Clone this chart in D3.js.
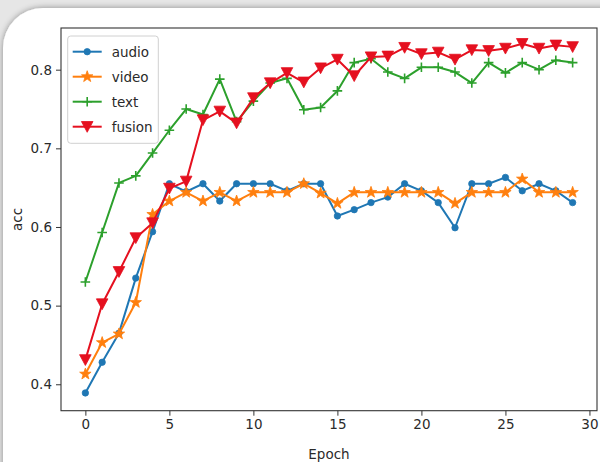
<!DOCTYPE html>
<html>
<head>
<meta charset="utf-8">
<script src="https://cdn.jsdelivr.net/npm/d3@7/dist/d3.min.js"></script>
<style>
  html, body { margin: 0; padding: 0; background: #e4e4e4; }
  svg { display: block; }
  text { font-family: "DejaVu Sans", sans-serif; }
</style>
</head>
<body>
<svg id="chart" width="600" height="462"></svg>
<script>
// ---- data ----
const epochs = d3.range(0, 30);
const audio = [0.389, 0.428, 0.465, 0.535, 0.594, 0.655, 0.645, 0.655, 0.633, 0.655,
               0.655, 0.655, 0.646, 0.655, 0.655, 0.614, 0.622, 0.631, 0.638, 0.655,
               0.646, 0.631, 0.599, 0.655, 0.655, 0.663, 0.646, 0.655, 0.646, 0.631];
const video = [0.413, 0.453, 0.464, 0.504, 0.616, 0.633, 0.644, 0.633, 0.644, 0.633,
               0.644, 0.644, 0.644, 0.655, 0.643, 0.630, 0.644, 0.644, 0.644, 0.644,
               0.644, 0.644, 0.630, 0.644, 0.644, 0.644, 0.661, 0.644, 0.644, 0.644];
const text = [0.530, 0.593, 0.656, 0.665, 0.694, 0.723, 0.750, 0.743, 0.788, 0.734,
              0.760, 0.783, 0.789, 0.749, 0.752, 0.773, 0.809, 0.814, 0.797, 0.789,
              0.803, 0.803, 0.797, 0.783, 0.809, 0.796, 0.809, 0.800, 0.812, 0.809];
const fusion = [0.431, 0.502, 0.543, 0.586, 0.605, 0.649, 0.658, 0.736, 0.747, 0.732,
                0.764, 0.783, 0.796, 0.784, 0.802, 0.813, 0.792, 0.816, 0.817, 0.828,
                0.820, 0.822, 0.813, 0.825, 0.824, 0.827, 0.833, 0.827, 0.831, 0.829];
const seriesNames = ["audio", "video", "text", "fusion"];
const seriesColors = ["#1f77b4", "#ff7f0e", "#2ca02c", "#e5101f"];
const seriesMarkers = ["point", "star", "plus", "tridown"];
const xTicks = [0, 5, 10, 15, 20, 25, 30];
const yTicks = [0.4, 0.5, 0.6, 0.7, 0.8];
const xLabel = "Epoch";
const yLabel = "acc";

// ---- layout ----
const svg = d3.select("#chart");
const L = 61, R = 597, T = 28, B = 410.7;
const x = d3.scaleLinear().domain([-1.45, 30.45]).range([L, R]);
const y = d3.scaleLinear().domain([0.3664, 0.853]).range([B, T]);
const textColor = "#2a2a2a";

// card background
const defs = svg.append("defs");
const f = defs.append("filter").attr("id", "sh").attr("x", "-10%").attr("y", "-10%").attr("width", "120%").attr("height", "120%");
f.append("feGaussianBlur").attr("in", "SourceAlpha").attr("stdDeviation", 3);
f.append("feOffset").attr("dx", 0).attr("dy", 0).attr("result", "b");
f.append("feComponentTransfer").append("feFuncA").attr("type", "linear").attr("slope", 0.4);
const fm = f.append("feMerge");
fm.append("feMergeNode");
fm.append("feMergeNode").attr("in", "SourceGraphic");

svg.append("rect").attr("width", 600).attr("height", 462).attr("fill", "#e6e6e6");
svg.append("rect")
  .attr("x", 3).attr("y", 8).attr("width", 640).attr("height", 500).attr("rx", 40)
  .attr("fill", "#ffffff").attr("filter", "url(#sh)");

// marker path generators
function markerPath(type) {
  if (type === "point") return d3.symbol().type(d3.symbolCircle).size(Math.PI * 3.2 * 3.2)();
  if (type === "star") {
    const Ro = 6, Ri = Ro * 0.40; const pts = [];
    for (let i = 0; i < 10; i++) {
      const r = i % 2 === 0 ? Ro : Ri;
      const a = -Math.PI / 2 + i * Math.PI / 5;
      pts.push([r * Math.cos(a), r * Math.sin(a)]);
    }
    return "M" + pts.map(p => p[0].toFixed(2) + "," + p[1].toFixed(2)).join("L") + "Z";
  }
  if (type === "plus") return "M-4.8,0L4.8,0M0,-4.8L0,4.8";
  if (type === "tridown") return "M0,5.6L-5.8,-5.2L5.8,-5.2Z";
}

// axes ticks
const xAxis = d3.axisBottom(x).tickValues(xTicks).tickSize(5).tickPadding(4).tickFormat(d3.format("d"));
const yAxis = d3.axisLeft(y).tickValues(yTicks).tickSize(5).tickPadding(4).tickFormat(d3.format(".1f"));
const gx = svg.append("g").attr("transform", `translate(0,${B})`).call(xAxis);
const gy = svg.append("g").attr("transform", `translate(${L},0)`).call(yAxis);
[gx, gy].forEach(g => {
  g.select(".domain").remove();
  g.selectAll(".tick line").attr("stroke", "#333").attr("stroke-width", 1);
  g.selectAll(".tick text").attr("fill", textColor).style("font-size", "13.5px").style("font-family", "DejaVu Sans, sans-serif");
});

// series
const allSeries = [audio, video, text, fusion];
const line = d3.line().x((d, i) => x(epochs[i])).y(d => y(d));
const plot = svg.append("g");
allSeries.forEach((vals, si) => {
  const c = seriesColors[si];
  plot.append("path").datum(vals).attr("d", line)
    .attr("fill", "none").attr("stroke", c).attr("stroke-width", 2).attr("stroke-linejoin", "round");
  const mk = seriesMarkers[si];
  plot.append("g").selectAll("path").data(vals).join("path")
    .attr("transform", (d, i) => `translate(${x(epochs[i])},${y(d)})`)
    .attr("d", markerPath(mk))
    .attr("fill", mk === "plus" ? "none" : c)
    .attr("stroke", c)
    .attr("stroke-width", mk === "plus" ? 1.6 : 0.8);
});

// frame
svg.append("rect").attr("x", L).attr("y", T).attr("width", R - L).attr("height", B - T)
  .attr("fill", "none").attr("stroke", "#333").attr("stroke-width", 1.1);

// legend
const lg = svg.append("g");
lg.append("rect").attr("x", 67.7).attr("y", 36).attr("width", 90.6).attr("height", 107.3).attr("rx", 3)
  .attr("fill", "#ffffff").attr("fill-opacity", 0.85).attr("stroke", "#d0d0d0").attr("stroke-width", 1);
seriesNames.forEach((name, i) => {
  const cy = 51.7 + i * 25;
  const c = seriesColors[i];
  lg.append("line").attr("x1", 72.7).attr("x2", 101.7).attr("y1", cy).attr("y2", cy)
    .attr("stroke", c).attr("stroke-width", 2);
  const mk = seriesMarkers[i];
  lg.append("path").attr("transform", `translate(87.2,${cy})`).attr("d", markerPath(mk))
    .attr("fill", mk === "plus" ? "none" : c).attr("stroke", c).attr("stroke-width", mk === "plus" ? 1.6 : 0.8);
  lg.append("text").attr("x", 111.7).attr("y", cy + 5).attr("fill", textColor)
    .style("font-size", "13.5px").text(name);
});

// axis labels
svg.append("text").attr("x", (L + R) / 2).attr("y", 459).attr("text-anchor", "middle")
  .attr("fill", textColor).style("font-size", "13.5px").text(xLabel);
svg.append("text").attr("transform", `translate(22,${(T + B) / 2}) rotate(-90)`).attr("text-anchor", "middle")
  .attr("fill", textColor).style("font-size", "13.5px").text(yLabel);
</script>
</body>
</html>
